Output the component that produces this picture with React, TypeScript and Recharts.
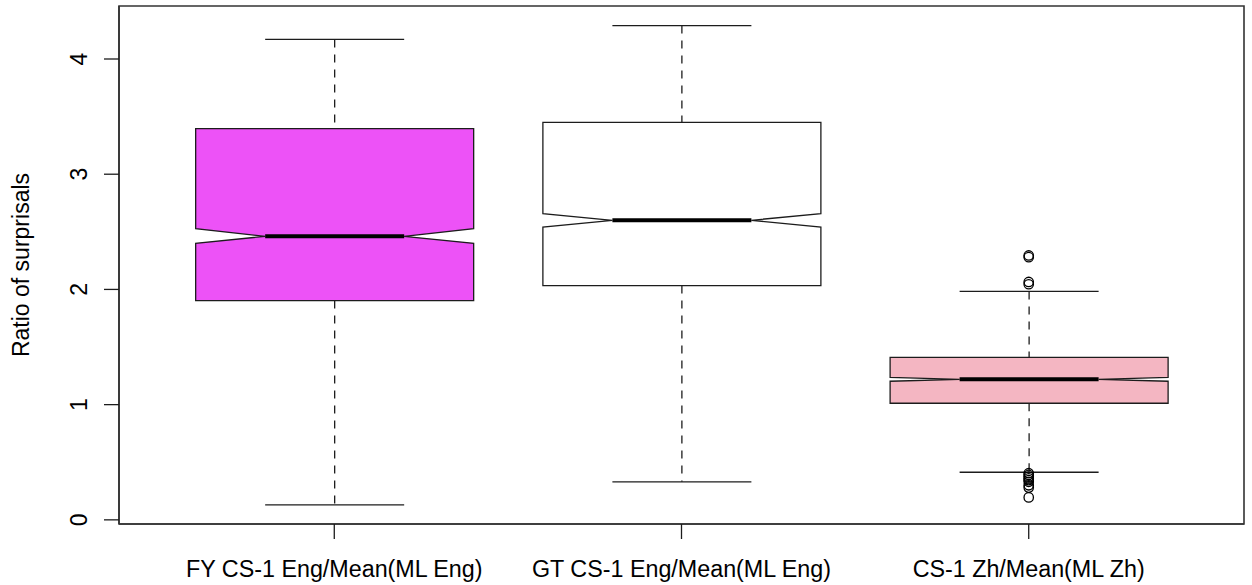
import React from "react";
import { ComposedChart, Bar, Scatter, XAxis, YAxis, ReferenceArea } from "recharts";

const categories = ["FY CS-1 Eng/Mean(ML Eng)", "GT CS-1 Eng/Mean(ML Eng)", "CS-1 Zh/Mean(ML Zh)"];
const whiskerLow = [0.13, 0.33, 0.413];
const q1 = [1.903, 2.033, 1.012];
const median = [2.461, 2.6, 1.22];
const q3 = [3.395, 3.45, 1.411];
const whiskerHigh = [4.17, 4.29, 1.983];
const notchLow = [2.4, 2.542, 1.203];
const notchHigh = [2.527, 2.658, 1.237];
const csOutliers = [2.295, 2.28, 2.065, 2.045, 0.405, 0.39, 0.375, 0.36, 0.345, 0.33, 0.3, 0.28, 0.195];
const yTicks = [0, 1, 2, 3, 4];

const X_DOMAIN: [number, number] = [0.38, 3.62];
const Y_DOMAIN: [number, number] = [-0.036, 4.46];

const fills = ["#ED52F7", "#FFFFFF", "#F4B6C2"];
const FONT = "'Liberation Sans', Arial, Helvetica, sans-serif";
const INK = "#1c1c1c";

const rows = categories.map((name, i) => ({
  pos: i + 1,
  name,
  range: [q1[i], q3[i]],
  lo: whiskerLow[i],
  q1: q1[i],
  med: median[i],
  q3: q3[i],
  hi: whiskerHigh[i],
  nLo: notchLow[i],
  nHi: notchHigh[i],
  idx: i,
}));

const outlierRows = csOutliers.map((v) => ({ pos: 3, v }));

const BoxShape = (props: any) => {
  const { x, y, width, height, payload } = props;
  const top = Math.min(y, y + height);
  const bottom = Math.max(y, y + height);
  const k = (bottom - top) / (payload.q3 - payload.q1);
  const py = (v: number) => top + (payload.q3 - v) * k;
  const cx = x + width / 2;
  const hw = width / 2;
  const L = cx - hw;
  const R = cx + hw;
  const inL = cx - hw / 2;
  const inR = cx + hw / 2;
  const pts = [
    [L, py(payload.q3)],
    [R, py(payload.q3)],
    [R, py(payload.nHi)],
    [inR, py(payload.med)],
    [R, py(payload.nLo)],
    [R, py(payload.q1)],
    [L, py(payload.q1)],
    [L, py(payload.nLo)],
    [inL, py(payload.med)],
    [L, py(payload.nHi)],
  ]
    .map((p) => p.join(","))
    .join(" ");
  return (
    <g>
      <line x1={cx} x2={cx} y1={py(payload.hi)} y2={py(payload.q3)} stroke={INK} strokeWidth={1.3} strokeDasharray="8 7" />
      <line x1={cx} x2={cx} y1={py(payload.q1)} y2={py(payload.lo)} stroke={INK} strokeWidth={1.3} strokeDasharray="8 7" />
      <line x1={inL} x2={inR} y1={py(payload.hi)} y2={py(payload.hi)} stroke={INK} strokeWidth={1.4} />
      <line x1={inL} x2={inR} y1={py(payload.lo)} y2={py(payload.lo)} stroke={INK} strokeWidth={1.4} />
      <polygon points={pts} fill={fills[payload.idx]} stroke={INK} strokeWidth={1.3} strokeLinejoin="miter" />
      <line x1={inL} x2={inR} y1={py(payload.med)} y2={py(payload.med)} stroke="#000" strokeWidth={4} />
    </g>
  );
};

const OutlierShape = (props: any) => {
  const { cx, cy } = props;
  return <circle cx={cx} cy={cy} r={4.7} fill="none" stroke="#000" strokeWidth={1.3} />;
};

const YTick = (props: any) => {
  const { x, y, payload } = props;
  const bx = x - 15;
  return (
    <text x={bx} y={y} transform={`rotate(-90, ${bx}, ${y})`} textAnchor="middle" fontFamily={FONT} fontSize={23} fill="#000">
      {payload.value}
    </text>
  );
};

const XTick = (props: any) => {
  const { x, y, payload } = props;
  return (
    <text x={x} y={y + 36} textAnchor="middle" fontFamily={FONT} fontSize={23.3} fill="#000">
      {categories[payload.value - 1]}
    </text>
  );
};

const YTitle = (props: any) => {
  const vb = props.viewBox || { x: 0, y: 6, width: 119, height: 518 };
  const cy = vb.y + vb.height / 2;
  const bx = 29;
  return (
    <text x={bx} y={cy} transform={`rotate(-90, ${bx}, ${cy})`} textAnchor="middle" fontFamily={FONT} fontSize={23} fill="#000">
      Ratio of surprisals
    </text>
  );
};

export default function App() {
  return (
    <div style={{ position: "absolute", left: 0, top: 0, background: "#fff" }}>
      <ComposedChart width={1252} height={585} data={rows} margin={{ top: 6, right: 8, bottom: 0, left: 0 }}>
        <XAxis
          xAxisId="b"
          dataKey="pos"
          type="number"
          domain={X_DOMAIN}
          ticks={[1, 2, 3]}
          allowDataOverflow
          height={61}
          tickSize={15}
          tickLine={{ stroke: INK, strokeWidth: 1.3 }}
          axisLine={{ stroke: "#333", strokeWidth: 1.6 }}
          tick={<XTick />}
        />
        <YAxis
          yAxisId="l"
          type="number"
          domain={Y_DOMAIN}
          ticks={yTicks}
          allowDataOverflow
          width={119}
          tickSize={15}
          tickLine={{ stroke: INK, strokeWidth: 1.3 }}
          axisLine={{ stroke: "#333", strokeWidth: 1.6 }}
          tick={<YTick />}
          label={<YTitle />}
        />
        <Bar xAxisId="b" yAxisId="l" dataKey="range" barSize={278} shape={<BoxShape />} isAnimationActive={false} />
        <Scatter xAxisId="b" yAxisId="l" data={outlierRows} dataKey="v" shape={<OutlierShape />} isAnimationActive={false} />
        <ReferenceArea
          xAxisId="b"
          yAxisId="l"
          x1={X_DOMAIN[0]}
          x2={X_DOMAIN[1]}
          y1={Y_DOMAIN[0]}
          y2={Y_DOMAIN[1]}
          fill="none"
          fillOpacity={0}
          stroke="#333"
          strokeWidth={1.6}
          ifOverflow="visible"
        />
      </ComposedChart>
    </div>
  );
}
